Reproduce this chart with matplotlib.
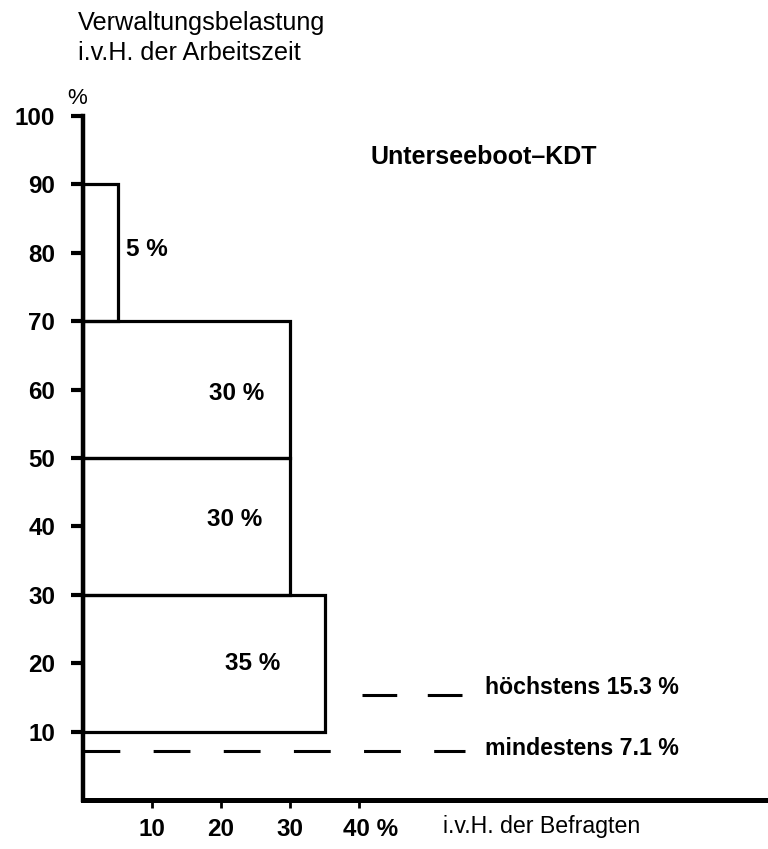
import matplotlib
matplotlib.use("Agg")
import matplotlib.pyplot as plt
import matplotlib.transforms as mtransforms

plt.rcParams['font.family'] = ['Liberation Sans', 'DejaVu Sans']
plt.rcParams['lines.scale_dashes'] = False

# ---- data ----
band_low = [10, 30, 50, 70]          # Verwaltungsbelastung, lower bound (%)
band_high = [30, 50, 70, 90]         # upper bound (%)
share = [35, 30, 30, 5]              # i.v.H. der Befragten
share_labels = ["35 %", "30 %", "30 %", "5 %"]
y_ticks = [10, 20, 30, 40, 50, 60, 70, 80, 90, 100]
x_ticks = [10, 20, 30, 40]
x_tick_labels = ["10", "20", "30", "40 %"]
max_value = 15.3
min_value = 7.1
max_label = "höchstens 15.3 %"
min_label = "mindestens 7.1 %"
title = "Unterseeboot\u2013KDT"

W, H = 768, 849
fig = plt.figure(figsize=(W / 100, H / 100), dpi=100)
x0, y0 = 83, 800          # pixel position of data origin
x1, y1 = 768, 116         # pixel position of (xmax, 100)
ax = fig.add_axes([x0 / W, 1 - y0 / H, (x1 - x0) / W, (y0 - y1) / H])
xmax = (x1 - x0) / 6.9
ax.set_xlim(0, xmax)
ax.set_ylim(0, 100)

# bars
heights = [h - l for l, h in zip(band_low, band_high)]
ax.barh(band_low, share, height=heights, left=0, align='edge',
        fill=False, edgecolor='black', linewidth=2.3, zorder=2)

# bar labels
label_pos = [(24.6, 20), (22.0, 41), (22.3, 59.5), (6.3, 80.5)]
for (lx, ly), txt, s in zip(label_pos, share_labels, share):
    ha = 'left' if s < 10 else 'center'
    ax.text(lx, ly, txt, ha=ha, va='center', fontsize=17.5, fontweight='bold')

# dashed reference lines
l1, = ax.plot([40.4, 55.4], [max_value, max_value], color='black', lw=2.2)
l1.set_dashes([25, 22])
l2, = ax.plot([0, 55.4], [min_value, min_value], color='black', lw=2.2)
l2.set_dashes([26.5, 24])
ax.text(58.2, max_value + 1.2, max_label, ha='left', va='center',
        fontsize=16.7, fontweight='bold')
ax.text(58.2, min_value + 0.4, min_label, ha='left', va='center',
        fontsize=16.7, fontweight='bold')

ax.text(41.6, 94.0, title, ha='left', va='center', fontsize=18, fontweight='bold')

# spines / ticks
for s in ['top', 'right']:
    ax.spines[s].set_visible(False)
ax.spines['left'].set_linewidth(3.2)
ax.spines['bottom'].set_linewidth(3.6)
ax.set_yticks(y_ticks)
ax.set_yticklabels([str(v) for v in y_ticks])
ax.set_xticks(x_ticks)
ax.set_xticklabels(x_tick_labels)
ax.tick_params(axis='y', length=9, width=3, pad=11, labelsize=17.4)
ax.tick_params(axis='x', length=6, width=2, pad=7, labelsize=17.4)
for lab in ax.get_yticklabels() + ax.get_xticklabels():
    lab.set_fontweight('bold')
last = ax.get_xticklabels()[-1]
last.set_transform(last.get_transform() + mtransforms.ScaledTranslation(12 / 100, 0, fig.dpi_scale_trans))

# texts outside
ax.text(-0.9, 102.5, "%", ha='center', va='center', fontsize=16, clip_on=False)
fig.text(78 / W, 1 - 23 / H, "Verwaltungsbelastung", ha='left', va='center', fontsize=18.2)
fig.text(78 / W, 1 - 53 / H, "i.v.H. der Arbeitszeit", ha='left', va='center', fontsize=18.2)
fig.text(443 / W, 1 - 827 / H, "i.v.H. der Befragten", ha='left', va='center', fontsize=16.7)

fig.savefig("out.png", dpi=100)
